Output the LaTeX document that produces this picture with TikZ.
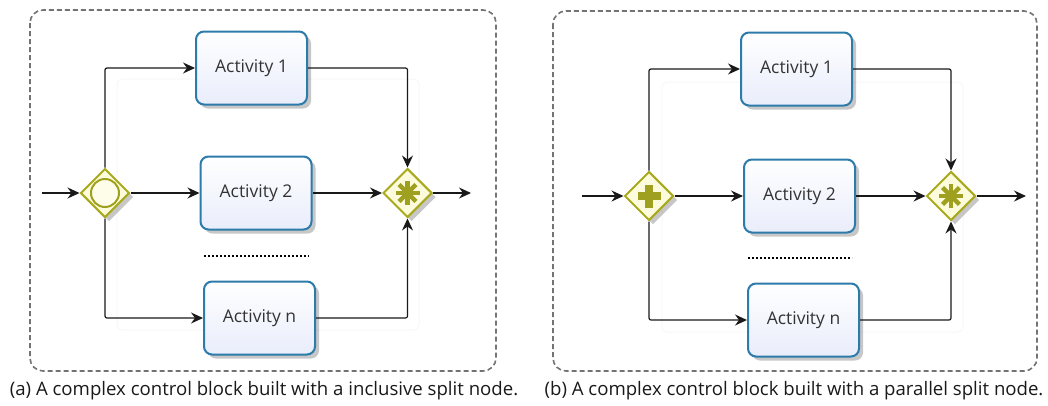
\documentclass[tikz,border=0pt]{standalone}
\usepackage{fontspec}
\setmainfont{Open Sans}
\usetikzlibrary{arrows.meta,shapes.geometric,shadows,calc}

\definecolor{actborder}{HTML}{2D7BAA}
\definecolor{actfill}{HTML}{E9EDFB}
\definecolor{gwborder}{HTML}{A9A91E}
\definecolor{gwfill}{HTML}{FCFCDC}
\definecolor{gwmark}{HTML}{A0A020}
\definecolor{framegray}{HTML}{737373}

\tikzset{
  activity/.style={draw=actborder, line width=2pt, rounded corners=8pt,
    top color=white, bottom color=actfill,
    minimum width=111pt, minimum height=73pt, inner sep=0pt,
    drop shadow={shadow xshift=4pt, shadow yshift=-4pt, opacity=0.22, fill=black},
    font=\fontsize{17.5}{20}\selectfont, text=black!80},
  gateway/.style={diamond, aspect=1, draw=gwborder, line width=2pt, fill=gwfill,
    minimum width=49pt, minimum height=49pt, inner sep=0pt,
    drop shadow={shadow xshift=4pt, shadow yshift=-4pt, opacity=0.22, fill=black}},
  flow/.style={line width=1.2pt, draw=black!90, rounded corners=2pt,
    -{Stealth[length=12pt,width=11pt,inset=4pt]}},
  blockframe/.style={draw=framegray, line width=1.6pt, dash pattern=on 5pt off 3pt,
    rounded corners=13pt},
  ghostbox/.style={draw=black!3, line width=1pt, rounded corners=5pt},
  ellipsis/.style={line width=2pt, dash pattern=on 2pt off 2pt},
  caption/.style={font=\fontsize{18.6}{22}\selectfont, text=black!90},
  markline/.style={gwmark, line width=4.5pt},
}

\begin{document}
\begin{tikzpicture}[x=1pt, y=-1pt]
  \useasboundingbox (0,0) rectangle (1048,405);

  % ---------------- block (a): inclusive split ----------------
  \draw[blockframe] (30,10) rectangle (496,371);
  \draw[ghostbox] (117,79) rectangle (419,330);

  \node[activity] (a1) at (251.5,68) {Activity 1};
  \node[activity] (a2) at (256,193) {Activity 2};
  \node[activity] (an) at (259.5,318) {Activity n};
  \node[gateway] (gsa) at (105,193) {};
  \node[gateway] (gja) at (407.5,193) {};

  % inclusive marker
  \draw[gwmark, line width=2pt, fill=gwfill!60!white] (gsa) circle (14);
  % complex marker
  \foreach \ang in {0,45,90,135}
    \draw[markline] ($(gja)+(\ang:12)$) -- ($(gja)+(\ang+180:12)$);

  \coordinate (ina) at (42,193);
  \coordinate (outa) at (471,193);
  \draw[flow] (ina) -- (gsa.west);
  \draw[flow] (gsa.north) |- (a1.west);
  \draw[flow] (gsa.east) -- (a2.west);
  \draw[flow] (gsa.south) |- (an.west);
  \draw[flow] (a1.east) -| (gja.north);
  \draw[flow] (a2.east) -- (gja.west);
  \draw[flow] (an.east) -| (gja.south);
  \draw[flow] (gja.east) -- (outa);

  \draw[ellipsis] (204,256) -- (309,256);

  \node[caption] (capa) at (264,391) {(a) A complex control block built with a inclusive split node.};

  % ---------------- block (b): parallel split ----------------
  \draw[blockframe] (553,11) rectangle (1037,371);
  \draw[ghostbox] (662,82) rectangle (963,332);

  \node[activity] (b1) at (796.5,69) {Activity 1};
  \node[activity] (b2) at (799.5,196) {Activity 2};
  \node[activity] (bn) at (803.5,320) {Activity n};
  \node[gateway] (gsb) at (649,196) {};
  \node[gateway] (gjb) at (951,196) {};

  % parallel marker
  \fill[gwmark] ($(gsb)+(-11.5,-4)$) rectangle ($(gsb)+(11.5,4)$);
  \fill[gwmark] ($(gsb)+(-4,-11.5)$) rectangle ($(gsb)+(4,11.5)$);
  % complex marker
  \foreach \ang in {0,45,90,135}
    \draw[markline] ($(gjb)+(\ang:12)$) -- ($(gjb)+(\ang+180:12)$);

  \coordinate (inb) at (582,196);
  \coordinate (outb) at (1026,196);
  \draw[flow] (inb) -- (gsb.west);
  \draw[flow] (gsb.north) |- (b1.west);
  \draw[flow] (gsb.east) -- (b2.west);
  \draw[flow] (gsb.south) |- (bn.west);
  \draw[flow] (b1.east) -| (gjb.north);
  \draw[flow] (b2.east) -- (gjb.west);
  \draw[flow] (bn.east) -| (gjb.south);
  \draw[flow] (gjb.east) -- (outb);

  \draw[ellipsis] (748,258) -- (852,258);

  \node[caption] (capb) at (794,391) {(b) A complex control block built with a parallel split node.};
\end{tikzpicture}
\end{document}
